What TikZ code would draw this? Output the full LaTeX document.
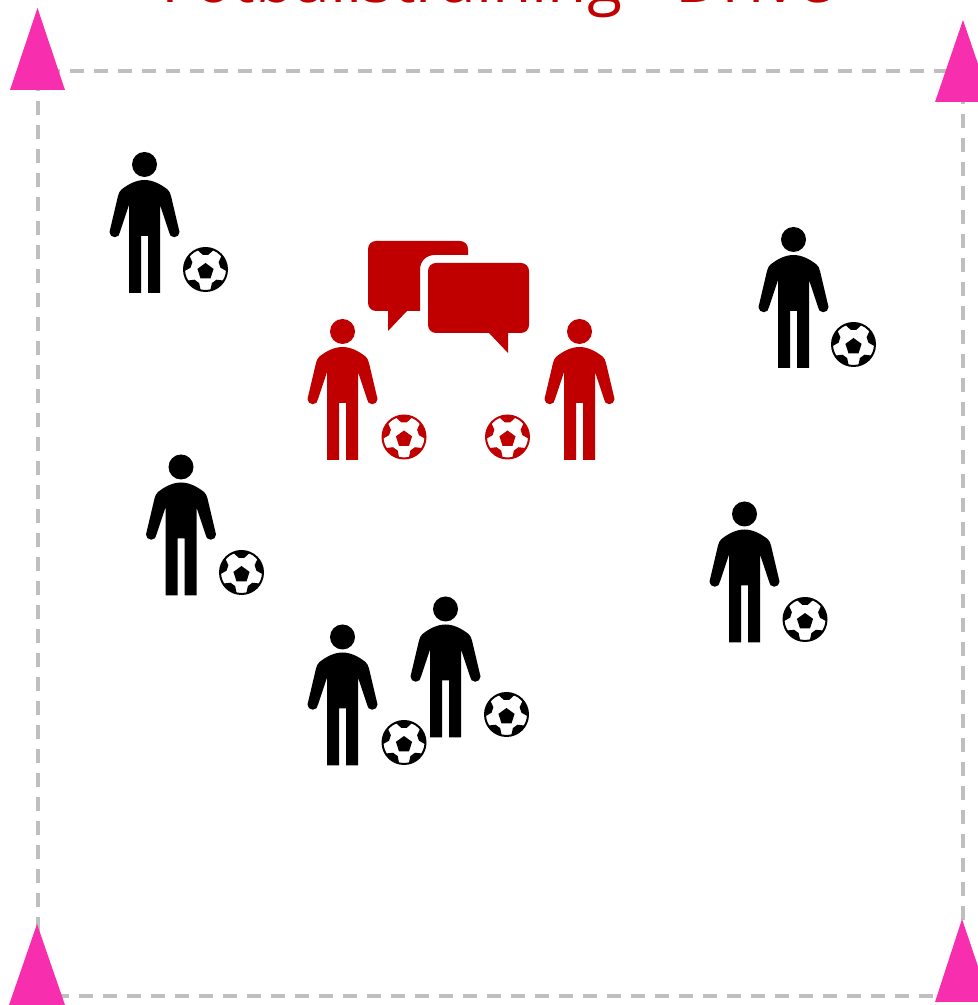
\documentclass[tikz,border=0pt]{standalone}
\usepackage{fontspec}
\setmainfont{Open Sans}
\usetikzlibrary{calc,positioning}
\definecolor{redx}{HTML}{C00000}
\definecolor{conex}{HTML}{F72FAE}
\definecolor{linex}{HTML}{BFBFBF}
\tikzset{
  field/.style={draw=linex,line width=1.7pt,dash pattern=on 7pt off 5pt,dash phase=8pt},
  cone/.style={fill=conex},
  pics/player/.style={code={
    \fill[#1] (0,128.5) circle (12.5);
    \fill[#1] (-15.5,0)--(-15.5,88)--(-24.5,61)
      arc (0:-180:5.25)--(-26.5,97)
      .. controls (-25.5,100) and (-25,102) .. (-23,103.5)
      .. controls (-16,109) and (-8,113) .. (0,113)
      .. controls (8,113) and (16,109) .. (23,103.5)
      .. controls (25,102) and (25.5,100) .. (26.5,97)--(35,61)
      arc (0:-180:5.25)--(15.5,88)--(15.5,0)
      --(3.5,0)--(3.5,57)--(-3.5,57)--(-3.5,0)--cycle;
  }},
  pics/ball/.style={code={
    \fill[white] (0,0) circle (22.5);
    \draw[#1,line width=1pt] (0,0) circle (21.5);
    \foreach \a in {18,90,162,234,306}{
      \fill[#1] (\a-23:21.5) -- (\a-11:15) -- (\a+11:15) -- (\a+23:21.5) arc (\a+23:\a-23:21.5) -- cycle;
    }
    \fill[#1] ($(90:8.5)+(0,-2)$) -- ($(162:8.5)+(0,-2)$) -- ($(234:8.5)+(0,-2)$) -- ($(306:8.5)+(0,-2)$) -- ($(18:8.5)+(0,-2)$) -- cycle;
  }}
}
\begin{document}
\begin{tikzpicture}[x=0.5pt,y=0.5pt]
\useasboundingbox (0,0) rectangle (978,1005);
\node[font=\fontsize{32}{32}\selectfont,text=redx,anchor=base,inner sep=0pt] (title) at (497,1002.8) {Fotballstraining - Drive};
% field
\draw[field] (38,934)--(963,934)--(963,9)--(38,9)--cycle;
% cones
\fill[cone] (37.5,997)--(10,915)--(65,915)--cycle;
\fill[cone] (963,985)--(935,903)--(991,903)--cycle;
\fill[cone] (37,81)--(9,0)--(65,0)--cycle;
\fill[cone] (962,86)--(935,3)--(990,3)--cycle;
% players
\foreach \x/\y/\c in {144.5/712/black,793.5/637/black,342.5/545/redx,579.5/545/redx,181/409.5/black,744.5/362.5/black,342.5/239.5/black,445.5/267.5/black}
  \pic at (\x,\y) {player=\c};
% balls
\foreach \x/\y/\c in {205.5/735.5/black,853.5/660.5/black,404/568/redx,507.5/568/redx,241.5/432.5/black,805/385.5/black,404/262.5/black,506.5/290.5/black}
  \pic at (\x,\y) {ball=\c};
% speech bubbles
\fill[redx] (368,730) [rounded corners=4pt] --(368,764)--(468,764) [sharp corners] --(468,750)--(435,750)
  .. controls (426,750) and (420,744) .. (420,735)--(420,694)--(407,694)--(388,674)--(388,694) [rounded corners=4pt] --(368,694)--cycle;
\fill[redx] (428,700) [rounded corners=4pt] --(428,742)--(529,742)--(529,672) [sharp corners] --(508,672)--(508,652)--(489,672) [rounded corners=4pt] --(428,672)--cycle;
\end{tikzpicture}
\end{document}
